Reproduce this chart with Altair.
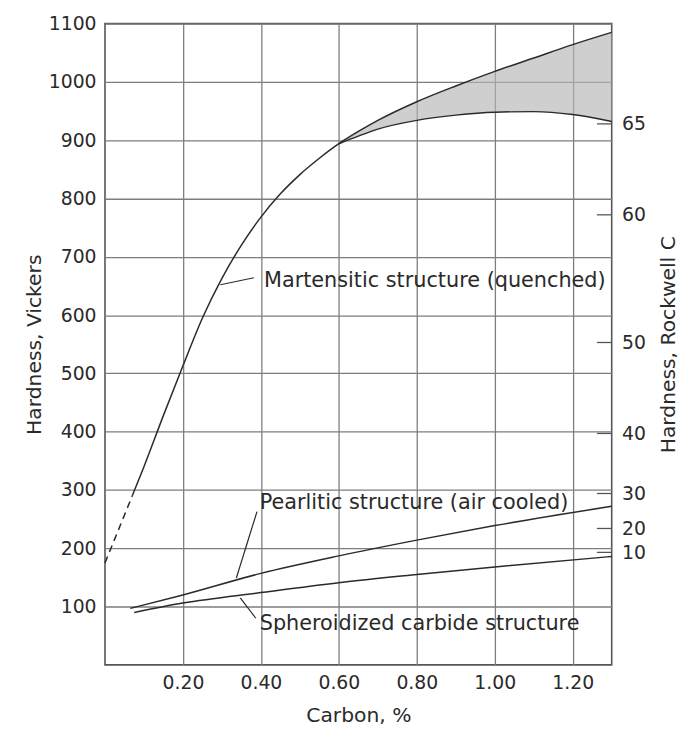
import altair as alt
import pandas as pd

# ---------------- data ----------------
mart_c = [0.07, 0.10, 0.15, 0.20, 0.25, 0.30, 0.35, 0.40, 0.45, 0.50, 0.55, 0.60]
mart_hv = [290, 340, 428, 513, 595, 663, 720, 768, 808, 841, 869, 894]

dash_c = [0.0, 0.07]
dash_hv = [175, 290]

band_c = [0.60, 0.65, 0.70, 0.80, 0.90, 1.00, 1.10, 1.20, 1.30]
upper_hv = [894, 915, 934, 966, 993, 1018, 1041, 1064, 1085]
lower_hv = [894, 907, 919, 934, 943, 948, 949, 944, 932]

pearl_c = [0.065, 0.20, 0.40, 0.60, 0.80, 1.00, 1.30]
pearl_hv = [97, 120, 157, 187, 214, 239, 272]

sph_c = [0.075, 0.20, 0.40, 0.60, 0.80, 1.00, 1.30]
sph_hv = [90, 106, 124, 141, 155, 168, 186]

label_text = ["Martensitic structure (quenched)",
              "Pearlitic structure (air cooled)",
              "Spheroidized carbide structure"]
label_c = [0.408, 0.397, 0.397]
label_hv = [659, 278, 70]

leader_c = [0.296, 0.337, 0.347]
leader_hv = [652, 149, 115]
leader_c2 = [0.382, 0.390, 0.387]
leader_hv2 = [664, 263, 80]

rockwell_labels = ["10", "20", "30", "40", "50", "60", "65"]
rockwell_hv = [193, 234, 294, 397, 553, 772, 928]
rockwell_tick_c = 1.262

x_ticks = [0.2, 0.4, 0.6, 0.8, 1.0, 1.2]
y_ticks = [100, 200, 300, 400, 500, 600, 700, 800, 900, 1000, 1100]

FONT = "DejaVu Sans"
INK = "#2a2a2a"
FS = 19          # tick labels
FS_TITLE = 20.5  # axis titles
FS_NOTE = 21     # curve annotations

# ---------------- tables ----------------
main_df = pd.DataFrame({"c": mart_c + band_c[1:], "hv": mart_hv + upper_hv[1:]})
lower_df = pd.DataFrame({"c": band_c, "hv": lower_hv})
dash_df = pd.DataFrame({"c": dash_c, "hv": dash_hv})
band_df = pd.DataFrame({"c": band_c, "up": upper_hv, "lo": lower_hv})
pearl_df = pd.DataFrame({"c": pearl_c, "hv": pearl_hv})
sph_df = pd.DataFrame({"c": sph_c, "hv": sph_hv})
label_df = pd.DataFrame({"t": label_text, "c": label_c, "hv": label_hv})
leader_df = pd.DataFrame({"c": leader_c, "hv": leader_hv, "c2": leader_c2, "hv2": leader_hv2})
rock_df = pd.DataFrame({"c": [rockwell_tick_c] * len(rockwell_hv),
                        "c2": [1.30] * len(rockwell_hv),
                        "hv": rockwell_hv})

W, H = 512, 648

xscale = alt.Scale(domain=[0, 1.3], nice=False, zero=False)
yscale = alt.Scale(domain=[0, 1100], nice=False, zero=False)

x_axis = alt.Axis(values=x_ticks, format=".2f", title="Carbon, %",
                  ticks=False, domain=False, labelPadding=9,
                  titleY=41, titleAnchor="middle")
left_axis = alt.Axis(values=y_ticks, format="d", title="Hardness, Vickers", orient="left",
                     ticks=False, domain=False, labelPadding=9,
                     titleX=-71, titleY=H / 2, titleAngle=270, titleBaseline="middle",
                     titleAlign="center")

label_expr = " : ".join(f"datum.value == {v} ? '{l}'" for v, l in zip(rockwell_hv, rockwell_labels)) + " : ''"
right_axis = alt.Axis(values=rockwell_hv, labelExpr=label_expr, title="Hardness, Rockwell C",
                      orient="right", ticks=False, domain=False, grid=False,
                      labelPadding=10, titleX=57, titleY=H / 2, titleAngle=270,
                      titleBaseline="middle", titleAlign="center")

X = alt.X("c:Q", scale=xscale, axis=x_axis)


def Y(field, axis=None):
    return alt.Y(f"{field}:Q", scale=yscale, axis=axis)


band = alt.Chart(band_df).mark_area(color="#b5b5b5", opacity=0.65, interpolate="monotone").encode(
    x=X, y=Y("up", left_axis), y2="lo:Q")

line_kw = dict(color=INK, strokeWidth=1.5)
main = alt.Chart(main_df).mark_line(interpolate="monotone", **line_kw).encode(x=X, y=Y("hv"))
lower = alt.Chart(lower_df).mark_line(interpolate="monotone", **line_kw).encode(x=X, y=Y("hv"))
dash = alt.Chart(dash_df).mark_line(strokeDash=[7, 5], **line_kw).encode(x=X, y=Y("hv"))
pearl = alt.Chart(pearl_df).mark_line(interpolate="monotone", **line_kw).encode(x=X, y=Y("hv"))
sph = alt.Chart(sph_df).mark_line(interpolate="monotone", **line_kw).encode(x=X, y=Y("hv"))

leaders = alt.Chart(leader_df).mark_rule(color=INK, strokeWidth=1.2).encode(
    x=X, y=Y("hv"), x2="c2:Q", y2="hv2:Q")

labels = alt.Chart(label_df).mark_text(align="left", baseline="middle", font=FONT,
                                       fontSize=FS_NOTE, color=INK).encode(
    x=X, y=Y("hv"), text="t:N")

rticks = alt.Chart(rock_df).mark_rule(color="#555", strokeWidth=1.3).encode(
    x=X, x2="c2:Q", y=Y("hv", right_axis))

chart = alt.layer(band, main, lower, dash, pearl, sph, leaders, labels, rticks).resolve_axis(
    y="independent"
).properties(
    width=W, height=H,
    autosize=alt.AutoSizeParams(type="none"),
    padding={"left": 98, "top": 12, "right": 68, "bottom": 60},
).configure_view(
    stroke="#555", strokeWidth=1.6
).configure_axis(
    gridColor="#7d7d7d", gridWidth=1.3, gridOpacity=1,
    labelFont=FONT, labelFontSize=FS, labelColor=INK,
    titleFont=FONT, titleFontSize=FS_TITLE, titleColor=INK, titleFontWeight="normal",
)

chart.save("out.html", embed_options={"renderer": "svg", "actions": False})
